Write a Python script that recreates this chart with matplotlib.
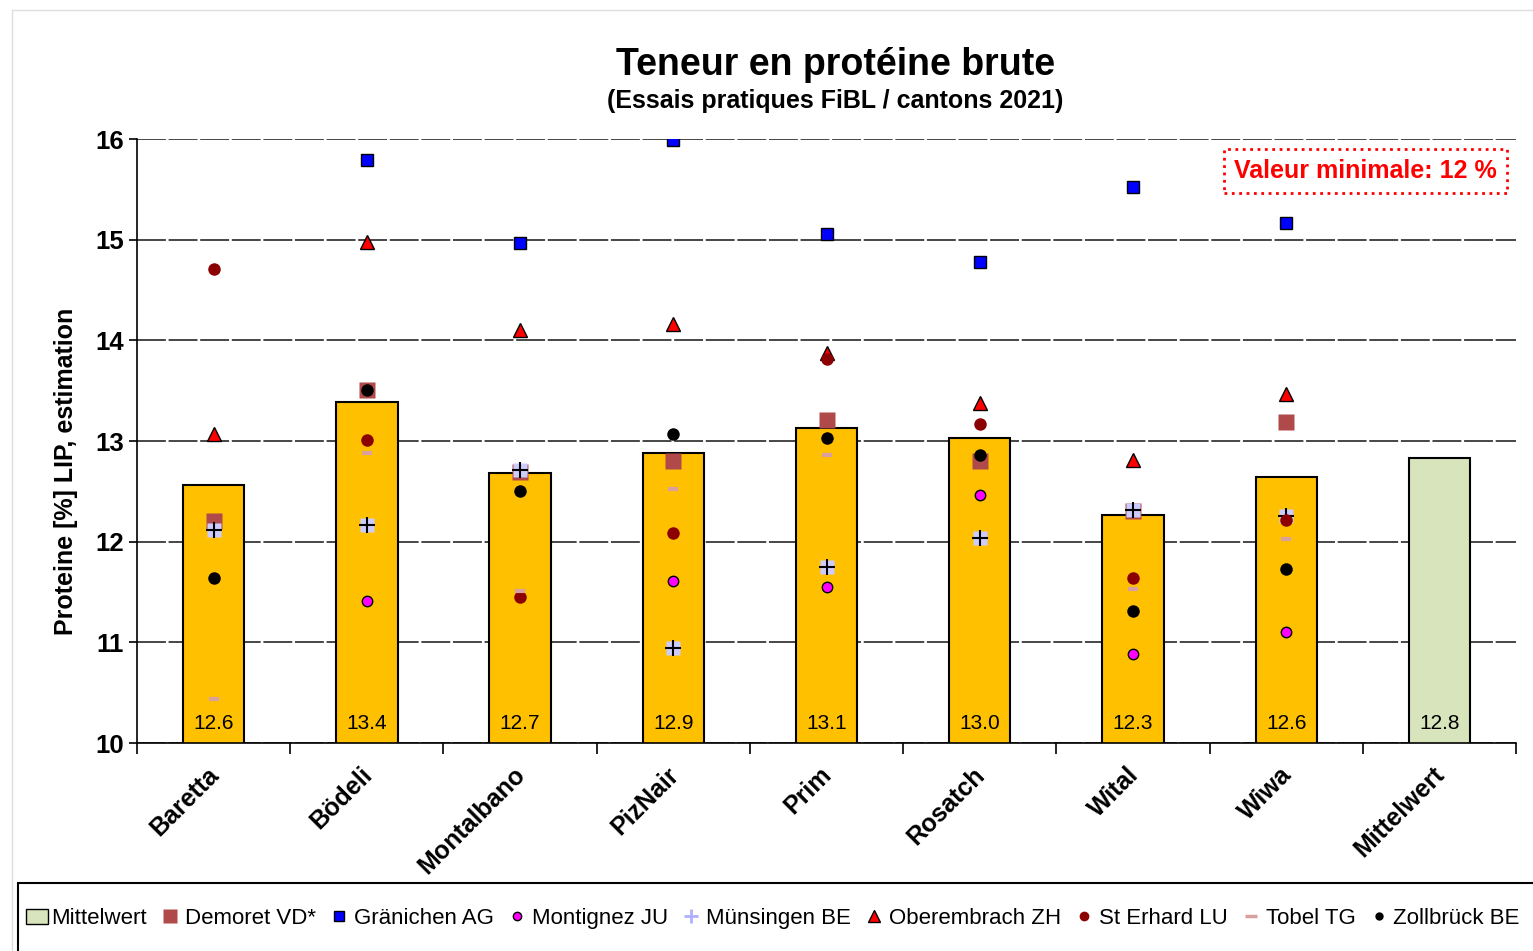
# -*- coding: utf-8 -*-
"""Teneur en protéine brute - essais pratiques FiBL / cantons 2021."""

import matplotlib
matplotlib.use("Agg")
import matplotlib.pyplot as plt
import matplotlib.transforms as mtransforms
from matplotlib.lines import Line2D
from matplotlib.patches import Patch, Rectangle
import numpy as np

plt.rcParams["font.family"] = ["Liberation Sans", "DejaVu Sans"]

nan = np.nan
varieties = ["Baretta", "Bödeli", "Montalbano", "PizNair", "Prim",
             "Rosatch", "Wital", "Wiwa", "Mittelwert"]
means = [12.56, 13.39, 12.68, 12.88, 13.13, 13.03, 12.27, 12.64, 12.83]
mean_labels = ["12.6", "13.4", "12.7", "12.9", "13.1", "13.0", "12.3", "12.6", "12.8"]

# site values per variety (Baretta .. Wiwa)
demoret = [12.21, 13.51, 12.69, 12.80, 13.21, 12.80, 12.30, 13.19]
graenichen = [nan, 15.79, 14.97, 15.99, 15.06, 14.78, 15.52, 15.17]
montignez = [nan, 11.41, nan, 11.61, 11.55, 12.46, 10.88, 11.10]
muensingen = [12.12, 12.17, 12.71, 10.94, 11.75, 12.04, 12.31, 12.26]
oberembrach = [13.07, 14.98, 14.10, 14.16, 13.87, 13.38, 12.81, 13.47]
st_erhard = [14.71, 13.01, 11.45, 12.09, 13.81, 13.17, 11.64, 12.22]
tobel = [10.44, 12.88, 11.51, 12.52, 12.86, nan, 11.53, 12.03]
zollbrueck = [11.64, 13.51, 12.50, 13.07, 13.03, 12.86, 11.31, 11.73]

fig = plt.figure(figsize=(15.33, 9.51), dpi=100)
ax = fig.add_axes([0.0894, 0.2187, 0.8995, 0.6351])

x = np.arange(len(varieties))
colors = ["#ffc000"] * 8 + ["#d8e4bc"]
ax.bar(x, means, width=0.4, bottom=0, color=colors, edgecolor="black",
       linewidth=1.5, zorder=2)
for xi, lab in zip(x, mean_labels):
    ax.text(xi, 10.19, lab, ha="center", va="center", fontsize=15, zorder=3)

xs = x[:8]
ax.plot(xs, demoret, ls="none", marker="s", ms=12, mfc="#b04a4a", mec="none", zorder=4)
ax.plot(xs, graenichen, ls="none", marker="s", ms=8, mfc="#0000ff", mec="black", mew=1, zorder=4)
ax.plot(xs, montignez, ls="none", marker="o", ms=7.5, mfc="#ff00ff", mec="black", mew=1, zorder=4)
ax.plot(xs, muensingen, ls="none", marker="s", ms=10, mfc="#ccccff", mec="none", zorder=4)
ax.plot(xs, muensingen, ls="none", marker="+", ms=11, mec="black", mew=1.5, zorder=4)
ax.plot(xs, oberembrach, ls="none", marker="^", ms=10, mfc="#ff0000", mec="black", mew=1, zorder=4)
ax.plot(xs, st_erhard, ls="none", marker="o", ms=9, mfc="#8b0000", mec="none", zorder=4)
ax.plot(xs, tobel, ls="none", marker="_", ms=7, mec="#d9a0a0", mew=3, zorder=4)
ax.plot(xs, zollbrueck, ls="none", marker="o", ms=9, mfc="black", mec="none", zorder=4)

ax.set_xlim(-0.5, 8.5)
ax.set_ylim(10, 16)
ax.set_yticks(range(10, 17))
ax.set_yticklabels([str(v) for v in range(10, 17)], fontsize=18.5, fontweight="bold")
ax.yaxis.grid(True, color="#383838", linewidth=1.3, linestyle=(0, (16, 1.5)), zorder=1)
ax.set_axisbelow(True)

ax.set_xticks(x)
ax.set_xticklabels(varieties, rotation=45, ha="right", rotation_mode="anchor",
                   fontsize=18, fontweight="bold")
ax.set_xticks(np.arange(-0.5, 9.0, 1.0), minor=True)
ax.tick_params(axis="x", which="major", length=0, pad=14)
ax.tick_params(axis="x", which="minor", length=8, width=1.2, direction="out")
ax.tick_params(axis="y", length=6, width=1.2, direction="out")

# nudge the slanted category names a little to the left
shift = mtransforms.ScaledTranslation(-7 / 100, 0, fig.dpi_scale_trans)
for lab in ax.get_xticklabels():
    lab.set_transform(lab.get_transform() + shift)

for side in ["top", "right"]:
    ax.spines[side].set_visible(False)
for side in ["left", "bottom"]:
    ax.spines[side].set_linewidth(1.2)

ax.set_ylabel("Proteine [%] LIP, estimation", fontsize=18, fontweight="bold")
ax.yaxis.set_label_coords(-0.0428, 0.45)

fig.text(0.545, 0.932, "Teneur en protéine brute", ha="center", va="center",
         fontsize=27, fontweight="bold")
fig.text(0.545, 0.894, "(Essais pratiques FiBL / cantons 2021)", ha="center", va="center",
         fontsize=18, fontweight="bold")

ax.text(0.891, 0.947, "Valeur minimale: 12 %", transform=ax.transAxes, ha="center",
        va="center", color="#ff0000", fontsize=18, fontweight="bold", zorder=5,
        bbox=dict(boxstyle="square,pad=0.4", facecolor="white", edgecolor="#ff0000",
                  linestyle=":", linewidth=2))

# chart area and legend frames
fig.patches.append(Rectangle((12 / 1533, -0.01), 1.0, 1 - 10 / 951 + 0.01,
                             transform=fig.transFigure, fill=False,
                             edgecolor="#dddddd", linewidth=1))
fig.patches.append(Rectangle((18 / 1533, -0.01), 1.0, (951 - 883) / 951 + 0.01,
                             transform=fig.transFigure, fill=False,
                             edgecolor="black", linewidth=1.5))

handles = [
    Patch(facecolor="#d8e4bc", edgecolor="black"),
    Line2D([], [], ls="none", marker="s", ms=10, mfc="#b04a4a", mec="none"),
    Line2D([], [], ls="none", marker="s", ms=7, mfc="#0000ff", mec="black"),
    Line2D([], [], ls="none", marker="o", ms=6, mfc="#ff00ff", mec="black"),
    Line2D([], [], ls="none", marker="+", ms=10, mec="#b0b0ff", mew=2),
    Line2D([], [], ls="none", marker="^", ms=8, mfc="#ff0000", mec="black"),
    Line2D([], [], ls="none", marker="o", ms=7, mfc="#8b0000", mec="none"),
    Line2D([], [], ls="none", marker="_", ms=8, mec="#d9a0a0", mew=2.5),
    Line2D([], [], ls="none", marker="o", ms=6, mfc="black", mec="none"),
]
labels = ["Mittelwert", "Demoret VD*", "Gränichen AG", "Montignez JU", "Münsingen BE",
          "Oberembrach ZH", "St Erhard LU", "Tobel TG", "Zollbrück BE"]
fig.legend(handles, labels, loc="center", bbox_to_anchor=(0.504, 0.034), ncol=9,
           frameon=False, fontsize=16, handlelength=1.0, handletextpad=0.15,
           columnspacing=0.56)

fig.savefig("out.png", dpi=100)
